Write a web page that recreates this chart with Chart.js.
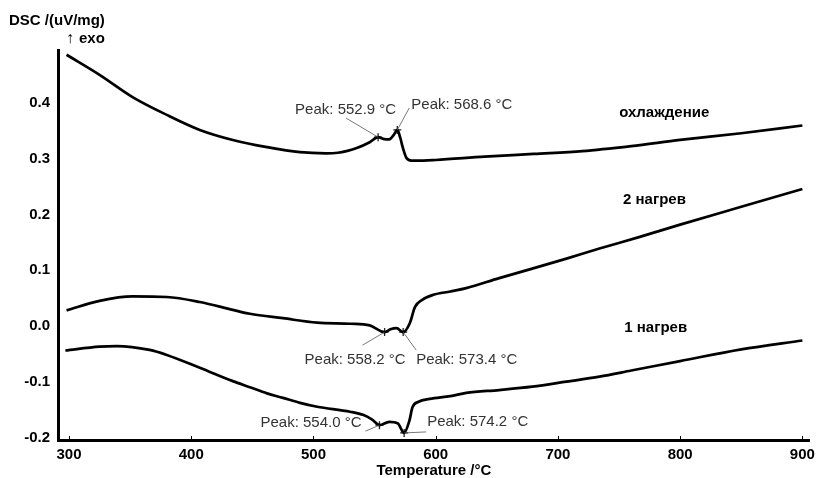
<!DOCTYPE html>
<html>
<head>
<meta charset="utf-8">
<title>DSC</title>
<script src="https://cdn.jsdelivr.net/npm/chart.js@4"></script>
<style>
  body { margin: 0; background: #fff; }
  canvas { display: block; }
</style>
</head>
<body>
<canvas id="canvas" width="821" height="478"></canvas>
<script>
// охлаждение (cooling run)
var coolTemp = [298, 325, 352, 380, 407, 434, 462, 489, 510, 520, 527, 536, 546, 552.9, 557, 562, 566, 568.6, 571, 573, 576, 580, 590, 600, 640, 680, 720, 760, 800, 850, 900];
var coolDsc  = [0.487, 0.451, 0.411, 0.379, 0.352, 0.334, 0.321, 0.312, 0.310, 0.311, 0.314, 0.320, 0.330, 0.339, 0.336, 0.335, 0.344, 0.352, 0.338, 0.321, 0.302, 0.297, 0.297, 0.298, 0.304, 0.309, 0.314, 0.323, 0.334, 0.346, 0.360];

// 2 нагрев (second heating)
var heat2Temp = [298, 325, 352, 380, 407, 434, 448, 475, 503, 530, 546, 558.2, 563, 568, 573.4, 578.8, 583, 589, 598, 612, 625, 652, 679, 707, 734, 767, 800, 850, 900];
var heat2Dsc  = [0.028, 0.045, 0.053, 0.052, 0.043, 0.029, 0.022, 0.014, 0.006, 0.004, 0.001, -0.011, -0.006, -0.004, -0.011, 0.005, 0.034, 0.047, 0.056, 0.062, 0.068, 0.086, 0.103, 0.121, 0.139, 0.160, 0.182, 0.214, 0.246];

// 1 нагрев (first heating)
var heat1Temp = [297, 325, 339, 366, 380, 407, 434, 448, 462, 475, 489, 503, 530, 541, 548, 554.0, 562, 569, 574.2, 578.5, 581, 586, 595, 612, 625, 652, 679, 707, 734, 760, 800, 850, 900];
var heat1Dsc  = [-0.044, -0.037, -0.036, -0.043, -0.052, -0.075, -0.099, -0.110, -0.121, -0.129, -0.138, -0.145, -0.154, -0.160, -0.168, -0.178, -0.172, -0.175, -0.192, -0.170, -0.146, -0.136, -0.131, -0.126, -0.120, -0.115, -0.109, -0.100, -0.091, -0.080, -0.063, -0.042, -0.026];

// peak picks
var peakTemps  = [552.9, 568.6, 558.2, 573.4, 554.0, 574.2];
var peakValues = [0.339, 0.352, -0.011, -0.011, -0.178, -0.192];

// curve names and where they sit (temperature, dsc)
var curveNames  = ['охлаждение', '2 нагрев', '1 нагрев'];
var nameTemps   = [787, 779, 780];
var nameValues  = [0.382, 0.226, -0.004];

var xTicks = [300, 400, 500, 600, 700, 800, 900];
var yTicks = [-0.2, -0.1, 0.0, 0.1, 0.2, 0.3, 0.4];

// text/leader offsets from each peak marker, px
var peakLabelOffsets = [
    { tx: -83, ty: -27, lx: -32, ly: -19 },
    { tx: 14,  ty: -25, lx: 12,  ly: -22 },
    { tx: -80, ty: 28,  lx: -22, ly: 13 },
    { tx: 13,  ty: 28,  lx: 13,  ly: 18 },
    { tx: -119, ty: -2, lx: -14, ly: 6 },
    { tx: 23,  ty: -11, lx: 22,  ly: -1 }
];

var FONT = '"Liberation Sans", Arial, sans-serif';
Chart.defaults.font.family = FONT;

function toPoints(xs, ys) {
    return xs.map(function (x, i) { return { x: x, y: ys[i] }; });
}

function curve(label, xs, ys) {
    return {
        label: label,
        data: toPoints(xs, ys),
        borderColor: '#000',
        borderWidth: 2.7,
        pointRadius: 0,
        fill: false,
        cubicInterpolationMode: 'monotone'
    };
}

var dscLabels = {
    id: 'dscLabels',
    afterDatasetsDraw: function (chart) {
        var ctx = chart.ctx;
        var xs = chart.scales.x, ys = chart.scales.y;
        ctx.save();

        // short inward ticks on the temperature axis
        ctx.strokeStyle = '#000';
        ctx.lineWidth = 1;
        xTicks.forEach(function (t) {
            var px = Math.round(xs.getPixelForValue(t)) + 0.5;
            ctx.beginPath();
            ctx.moveTo(px, ys.bottom);
            ctx.lineTo(px, ys.bottom - 4);
            ctx.stroke();
        });

        // peak leaders + texts
        ctx.font = '15px ' + FONT;
        ctx.textAlign = 'left';
        ctx.textBaseline = 'middle';
        peakTemps.forEach(function (t, i) {
            var px = xs.getPixelForValue(t);
            var py = ys.getPixelForValue(peakValues[i]);
            var o = peakLabelOffsets[i];
            ctx.strokeStyle = '#555';
            ctx.lineWidth = 0.8;
            ctx.beginPath();
            ctx.moveTo(px, py);
            ctx.lineTo(px + o.lx, py + o.ly);
            ctx.stroke();
            ctx.fillStyle = '#333';
            ctx.fillText('Peak: ' + t.toFixed(1) + ' °C', px + o.tx, py + o.ty);
        });

        // curve names
        ctx.font = 'bold 15px ' + FONT;
        ctx.fillStyle = '#000';
        ctx.textAlign = 'center';
        curveNames.forEach(function (name, i) {
            ctx.fillText(name, xs.getPixelForValue(nameTemps[i]), ys.getPixelForValue(nameValues[i]));
        });

        // y axis heading
        ctx.textAlign = 'left';
        ctx.fillText('DSC /(uV/mg)', 9, 21);
        ctx.font = 'bold 16px ' + FONT;
        ctx.fillText('↑', 66, 39);
        ctx.font = 'bold 15px ' + FONT;
        ctx.fillText('exo', 79, 39);

        ctx.restore();
    }
};

var ctx = document.getElementById('canvas').getContext('2d');
var config = {
    type: 'line',
    data: {
        datasets: [
            curve('охлаждение', coolTemp, coolDsc),
            curve('2 нагрев', heat2Temp, heat2Dsc),
            curve('1 нагрев', heat1Temp, heat1Dsc),
            {
                label: 'peaks',
                data: toPoints(peakTemps, peakValues),
                showLine: false,
                pointStyle: 'cross',
                pointRadius: 4,
                pointBorderWidth: 1.3,
                pointBorderColor: '#222',
                pointBackgroundColor: '#222'
            }
        ]
    },
    options: {
        responsive: false,
        animation: false,
        layout: { padding: { top: 50, right: 11, bottom: 0, left: 0 } },
        plugins: {
            legend: { display: false },
            tooltip: { enabled: false }
        },
        scales: {
            x: {
                type: 'linear',
                min: 291,
                max: 906,
                afterBuildTicks: function (s) { s.ticks = xTicks.map(function (v) { return { value: v }; }); },
                afterFit: function (s) { s.height = 38; },
                grid: { display: false, drawTicks: false },
                border: { display: true, color: '#000', width: 3 },
                ticks: {
                    padding: 6,
                    color: '#000',
                    font: { size: 15, weight: 'bold' },
                    callback: function (v) { return String(v); }
                },
                title: {
                    display: true,
                    text: 'Temperature /°C',
                    color: '#000',
                    font: { size: 15, weight: 'bold', lineHeight: 1 },
                    padding: { top: 0, bottom: 0 }
                }
            },
            y: {
                type: 'linear',
                min: -0.2047,
                max: 0.4955,
                afterBuildTicks: function (s) { s.ticks = yTicks.map(function (v) { return { value: v }; }); },
                afterFit: function (s) { s.width = 58; },
                grid: { display: false, drawTicks: false },
                border: { display: true, color: '#000', width: 3 },
                ticks: {
                    padding: 8,
                    color: '#000',
                    font: { size: 15, weight: 'bold' },
                    callback: function (v) { return Number(v).toFixed(1); }
                }
            }
        }
    },
    plugins: [dscLabels]
};

var mychart = new Chart(ctx, config);
</script>
</body>
</html>
